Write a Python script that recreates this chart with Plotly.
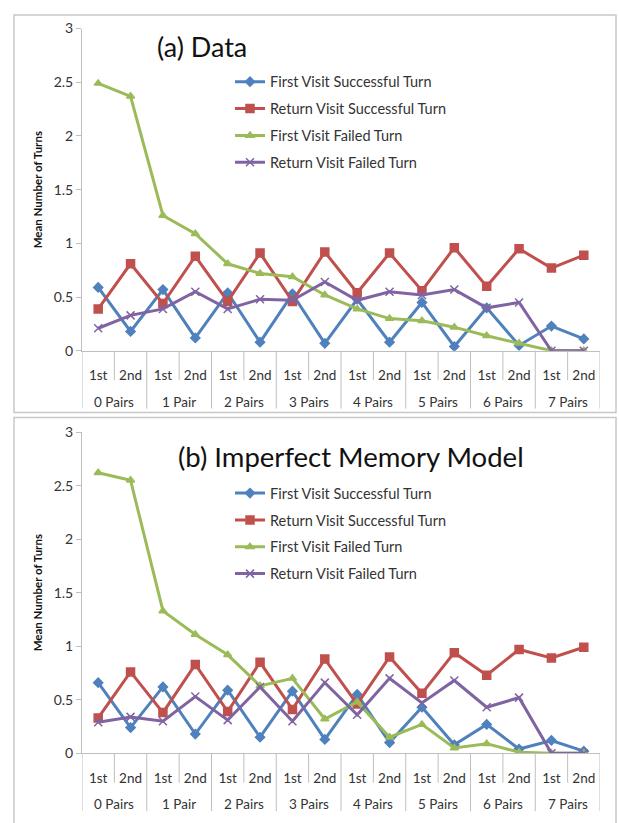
import plotly.graph_objects as go

groups = ["0 Pairs", "1 Pair", "2 Pairs", "3 Pairs", "4 Pairs", "5 Pairs", "6 Pairs", "7 Pairs"]
visits = ["1st", "2nd"]
sub_labels = [v for g in groups for v in visits]

series_names = ["First Visit Successful Turn", "Return Visit Successful Turn",
                "First Visit Failed Turn", "Return Visit Failed Turn"]

# (a) Data
data_first_success = [0.59, 0.18, 0.57, 0.12, 0.54, 0.08, 0.53, 0.07, 0.48, 0.08, 0.45, 0.04, 0.40, 0.05, 0.23, 0.11]
data_return_success = [0.39, 0.81, 0.44, 0.88, 0.46, 0.91, 0.46, 0.92, 0.54, 0.91, 0.56, 0.96, 0.60, 0.95, 0.77, 0.89]
data_first_failed = [2.49, 2.37, 1.26, 1.09, 0.81, 0.72, 0.69, 0.52, 0.39, 0.30, 0.28, 0.22, 0.14, 0.07, 0.0, 0.0]
data_return_failed = [0.21, 0.33, 0.39, 0.55, 0.39, 0.48, 0.47, 0.64, 0.47, 0.55, 0.52, 0.57, 0.40, 0.45, 0.0, 0.0]

# (b) Imperfect Memory Model
model_first_success = [0.66, 0.24, 0.62, 0.18, 0.59, 0.15, 0.58, 0.13, 0.55, 0.10, 0.43, 0.08, 0.27, 0.04, 0.12, 0.02]
model_return_success = [0.33, 0.76, 0.38, 0.83, 0.39, 0.85, 0.41, 0.88, 0.46, 0.90, 0.56, 0.94, 0.73, 0.97, 0.89, 0.99]
model_first_failed = [2.62, 2.55, 1.33, 1.11, 0.92, 0.63, 0.70, 0.32, 0.48, 0.15, 0.27, 0.05, 0.09, 0.01, 0.0, 0.0]
model_return_failed = [0.29, 0.34, 0.30, 0.53, 0.31, 0.62, 0.30, 0.66, 0.36, 0.70, 0.47, 0.68, 0.43, 0.52, 0.0, 0.0]

colors = ["#4F81BD", "#C0504D", "#9BBB59", "#8064A2"]
symbols = ["diamond", "square", "triangle-up", "x-thin-open"]
sizes = [7, 8, 7, 8]

FONT = "Lato"
TXT = "#333333"
GRID = "#bfbfbf"

W, H = 619, 823
def px_x(p):
    return p / W
def px_y(p):
    return 1 - p / H

fig = go.Figure()
xs = list(range(len(sub_labels)))

panels = [
    ("x", "y", "legend", [data_first_success, data_return_success, data_first_failed, data_return_failed]),
    ("x2", "y2", "legend2", [model_first_success, model_return_success, model_first_failed, model_return_failed]),
]
for xa, ya, lg, vals in panels:
    for i, (name, v) in enumerate(zip(series_names, vals)):
        fig.add_trace(go.Scatter(
            x=xs, y=v, name=name, mode="lines+markers",
            xaxis=xa, yaxis=ya, legend=lg, legendgroup=lg + str(i),
            line=dict(color=colors[i], width=3),
            marker=dict(symbol=symbols[i], size=sizes[i], color=colors[i],
                        line=dict(color=colors[i], width=1.5)),
        ))

# plot areas (pixels)
xl, xr = 82, 600
top_y = (20, 349)
bot_y = (432, 760)

axis_common = dict(showgrid=False, zeroline=False, showline=True, linecolor=GRID, linewidth=1)
xaxis_common = dict(axis_common, range=[-0.5, len(sub_labels) - 0.5], tickmode="array",
                    tickvals=xs, ticktext=sub_labels, ticks="outside", ticklen=12,
                    tickcolor="rgba(0,0,0,0)", tickfont=dict(family=FONT, size=13.5, color=TXT))
yaxis_common = dict(axis_common, range=[0, 3], dtick=0.5, tick0=0, ticks="outside", ticklen=5,
                    tickcolor=GRID, tickfont=dict(family=FONT, size=14, color=TXT),
                    title=dict(text="<b>Mean Number of Turns</b>", font=dict(family=FONT, size=11.5, color="#111"),
                               standoff=8))

fig.update_layout(
    width=W, height=H, margin=dict(l=0, r=0, t=0, b=0),
    paper_bgcolor="white", plot_bgcolor="white",
    xaxis=dict(xaxis_common, domain=[px_x(xl), px_x(xr)], anchor="y"),
    yaxis=dict(yaxis_common, domain=[px_y(top_y[1]), px_y(top_y[0])], anchor="x"),
    xaxis2=dict(xaxis_common, domain=[px_x(xl), px_x(xr)], anchor="y2"),
    yaxis2=dict(yaxis_common, domain=[px_y(bot_y[1]), px_y(bot_y[0])], anchor="x2"),
    legend=dict(x=px_x(230), y=px_y(58), xanchor="left", yanchor="top", bgcolor="rgba(0,0,0,0)",
                font=dict(family=FONT, size=14.5, color=TXT), tracegroupgap=5, itemwidth=30),
    legend2=dict(x=px_x(230), y=px_y(478), xanchor="left", yanchor="top", bgcolor="rgba(0,0,0,0)",
                 font=dict(family=FONT, size=14.5, color=TXT), tracegroupgap=5, itemwidth=30),
    showlegend=True,
)

# Panel frames
fig.add_shape(type="rect", xref="paper", yref="paper", x0=px_x(14), x1=px_x(616),
              y0=px_y(412), y1=px_y(6), line=dict(color="#c8c8c8", width=1.5))
fig.add_shape(type="rect", xref="paper", yref="paper", x0=px_x(14), x1=px_x(616),
              y0=px_y(840), y1=px_y(417), line=dict(color="#c8c8c8", width=1.5))

# Category table separators and group labels
for xa, ya, (yt, yb) in [("x", "y", top_y), ("x2", "y2", bot_y)]:
    hpx = yb - yt
    for b in range(len(sub_labels) + 1):
        is_group = (b % len(visits) == 0)
        depth = 59 if is_group else 30
        fig.add_shape(type="line", xref=xa, yref=ya + " domain", x0=b - 0.5, x1=b - 0.5,
                      y0=0, y1=-depth / hpx, line=dict(color=GRID, width=1))
    for gi, g in enumerate(groups):
        fig.add_annotation(xref=xa, yref=ya + " domain", x=gi * len(visits) + (len(visits) - 1) / 2,
                           y=-52 / hpx, text=g, showarrow=False, yanchor="middle",
                           font=dict(family=FONT, size=13.5, color=TXT))

fig.add_annotation(xref="paper", yref="paper", x=px_x(202), y=px_y(38), text="(a) Data",
                   xanchor="center", yanchor="middle",
                   showarrow=False, font=dict(family=FONT, size=27, color="#111"))
fig.add_annotation(xref="paper", yref="paper", x=px_x(351), y=px_y(457), text="(b) Imperfect Memory Model",
                   xanchor="center", yanchor="middle",
                   showarrow=False, font=dict(family=FONT, size=27.5, color="#111"))

fig.write_html("out.html")
